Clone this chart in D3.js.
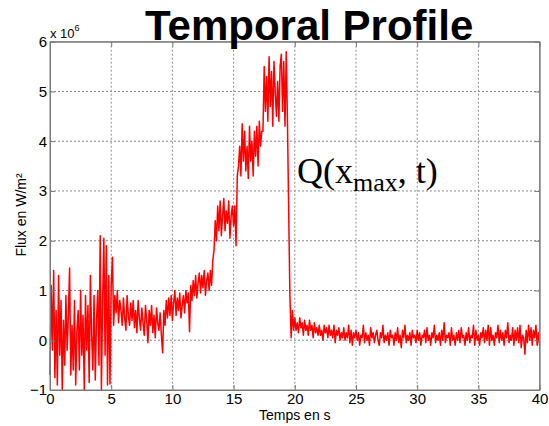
<!DOCTYPE html>
<html><head><meta charset="utf-8">
<script src="https://cdn.jsdelivr.net/npm/d3@7"></script>
<style>body{margin:0;background:#fff}svg{display:block}text{font-family:"Liberation Sans",Arial,sans-serif}</style>
</head><body><svg id="c" width="549" height="426"></svg>
<script>
// time axis: samples every 0.1 s from 0 to 40 s
const tStep = 0.1;
// flux values (x 10^6 W/m²), one row per second
const flux = [
 -0.7, 1.1, -0.2, 1.4, -0.75, 0.6, -0.9, 1.3, -0.3, 0.8,
 -1.0, 0.4, -0.5, 0.9, -0.2, 0.5, 1.45, -0.7, 0.3, -0.6,
 0.8, -0.9, 0.2, 0.6, -0.6, 1.0, -0.3, 0.5, -1.0, 0.9,
 -0.2, 0.7, -0.85, 1.3, 0.1, -0.6, 0.9, -0.8, 0.4, 1.0,
 -0.5, 2.1, -1.0, 0.8, 2.05, -0.3, 1.9, -0.9, 1.3, -0.88,
 1.1, 1.67, 0.3, 0.9, 0.55, 1.0, 0.35, 0.8, 0.6, 0.3,
 0.85, 0.45, 0.2, 0.9, 0.5, 0.3, 0.75, 0.4, 0.8, 0.25,
 0.6, 0.15, 0.8, 0.45, 0.2, 0.65, 0.35, 0.1, 0.7, 0.4,
 -0.05, 0.6, 0.3, 0.7, 0.15, 0.5, 0.05, 0.65, 0.35, 0.2,
 0.55, 0.1, -0.25, 0.6, 0.3, 0.8, 0.45, 0.85, 0.5, 0.9,
 0.4, 0.75, 1.0, 0.5, 0.85, 0.6, 0.95, 0.45, 0.7, 0.9,
 0.55, 1.0, 0.75, 0.95, 0.17, 1.1, 0.8, 1.2, 0.9, 1.3,
 0.85, 1.15, 1.35, 0.95, 1.3, 1.05, 1.4, 0.9, 1.2, 1.35,
 1.0, 1.4, 1.1, 1.6, 1.8, 2.4, 2.0, 2.7, 2.2, 2.8,
 2.1, 2.5, 2.85, 2.2, 2.6, 2.35, 2.8, 2.05, 2.5, 2.7,
 2.3, 2.7, 1.9, 3.3, 3.5, 3.9, 3.3, 4.35, 3.6, 4.2,
 3.4, 3.9, 3.25, 4.3, 3.6, 4.0, 3.3, 4.2, 3.7, 4.3,
 3.5, 4.4, 3.9, 4.2, 4.2, 5.5, 4.6, 5.3, 4.4, 5.7,
 4.7, 5.4, 4.3, 5.6, 5.0, 4.5, 5.2, 4.4, 5.5, 5.75,
 4.6, 5.6, 4.3, 5.8, 4.4, 2.6, 0.9, 0.05, 0.6, 0.2,
 0.45, 0.2, 0.35, 0.15, 0.45, 0.25, 0.35, 0.1, 0.4, 0.2,
 0.3, 0.1, 0.4, 0.2, 0.3, 0.05, 0.35, 0.15, 0.25, 0.1,
 0.3, 0.1, 0.2, 0.0, 0.3, 0.15, 0.25, 0.05, 0.3, 0.1,
 0.2, 0.05, 0.3, -0.05, 0.2, 0.1, 0.25, 0.0, 0.15, 0.05,
 0.25, 0.0, 0.15, 0.05, 0.3, -0.05, 0.2, -0.1, 0.15, 0.05,
 0.2, 0.0, 0.15, -0.1, 0.1, 0.05, 0.3, -0.05, 0.15, 0.0,
 0.1, -0.1, 0.25, 0.05, 0.15, -0.05, 0.1, 0.2, 0.0, -0.1,
 0.15, 0.05, 0.3, -0.05, 0.1, 0.0, 0.15, -0.1, 0.2, 0.05,
 0.1, -0.1, 0.15, 0.0, 0.25, -0.05, 0.1, -0.15, 0.2, 0.05,
 0.3, -0.05, 0.1, 0.0, 0.15, -0.1, 0.2, 0.05, 0.1, -0.05,
 0.2, 0.0, 0.15, -0.1, 0.1, 0.05, 0.2, -0.05, 0.25, 0.0,
 0.1, -0.1, 0.15, 0.05, 0.3, -0.05, 0.1, 0.0, 0.15, -0.1,
 0.2, 0.0, 0.35, -0.05, 0.1, 0.05, 0.15, -0.1, 0.25, 0.0,
 0.1, -0.1, 0.15, 0.0, 0.2, -0.05, 0.25, 0.05, 0.1, -0.1,
 0.15, 0.0, 0.25, -0.05, 0.1, 0.05, 0.3, -0.1, 0.2, 0.0,
 0.1, -0.1, 0.15, 0.05, 0.25, -0.05, 0.2, 0.0, 0.3, -0.1,
 0.25, 0.0, 0.1, -0.1, 0.15, 0.05, 0.3, -0.05, 0.2, 0.0,
 0.15, -0.1, 0.2, 0.05, 0.35, -0.05, 0.1, 0.0, 0.25, -0.1,
 0.2, 0.0, 0.25, -0.05, 0.3, -0.15, 0.1, 0.05, -0.28, 0.2,
 -0.05, 0.3, 0.0, 0.25, -0.1, 0.2, 0.05, 0.3, -0.1, 0.15, -0.1
];
const xTicks = [0, 5, 10, 15, 20, 25, 30, 35, 40];
const yTicks = [-1, 0, 1, 2, 3, 4, 5, 6];
const titleText = "Temporal Profile";
const xLabel = "Temps en s";
const yLabel = "Flux en W/m²";

const svg = d3.select("#c");
const L = 50, R = 539.6, T = 41.7, B = 390;
const x = d3.scaleLinear().domain([0, 40]).range([L, R]);
const y = d3.scaleLinear().domain([-1, 6]).range([B, T]);
const axisCol = "#7a7a7a";

// grid
const g = svg.append("g");
g.selectAll(".gx").data(xTicks.slice(1, -1)).join("line")
  .attr("x1", d => x(d)).attr("x2", d => x(d)).attr("y1", T).attr("y2", B)
  .attr("stroke", "#8a8a8a").attr("stroke-width", 1).attr("stroke-dasharray", "2,2");
g.selectAll(".gy").data(yTicks.slice(1, -1)).join("line")
  .attr("y1", d => y(d)).attr("y2", d => y(d)).attr("x1", L).attr("x2", R)
  .attr("stroke", "#8a8a8a").attr("stroke-width", 1).attr("stroke-dasharray", "2,2");

// data line
const data = flux.map((v, i) => [i * tStep, v]);
svg.append("path").datum(data)
  .attr("fill", "none").attr("stroke", "#ff0000").attr("stroke-width", 1.5)
  .attr("stroke-linejoin", "round")
  .attr("d", d3.line().x(d => x(d[0])).y(d => y(d[1])));

// axes (inward ticks)
const fmt = d3.format("d");
svg.append("g").attr("transform", `translate(0,${B})`)
  .call(d3.axisBottom(x).tickValues(xTicks).tickFormat(fmt).tickSizeInner(-5).tickSizeOuter(0).tickPadding(3));
svg.append("g").attr("transform", `translate(${L},0)`)
  .call(d3.axisLeft(y).tickValues(yTicks).tickFormat(fmt).tickSizeInner(-5).tickSizeOuter(0).tickPadding(3));
svg.append("g").attr("transform", `translate(0,${T})`)
  .call(d3.axisTop(x).tickValues(xTicks).tickSizeInner(-5).tickSizeOuter(0).tickFormat(""));
svg.append("g").attr("transform", `translate(${R},0)`)
  .call(d3.axisRight(y).tickValues(yTicks).tickSizeInner(-5).tickSizeOuter(0).tickFormat(""));
svg.selectAll(".domain, .tick line").attr("stroke", axisCol);
svg.selectAll(".tick text").attr("fill", "#000").style("font-size", "15px")
  .style("font-family", '"Liberation Sans",Arial,sans-serif');

// box
svg.append("rect").attr("x", L).attr("y", T).attr("width", R - L).attr("height", B - T)
  .attr("fill", "none").attr("stroke", axisCol).attr("stroke-width", 1);

// exponent
const ex = svg.append("text").attr("x", 50).attr("y", 38).style("font-size", "13px");
ex.append("tspan").text("x 10");
ex.append("tspan").attr("dy", -7).style("font-size", "9px").text("6");

// title
svg.append("text").attr("x", 145).attr("y", 40).style("font-size", "42px")
  .style("font-weight", "bold").attr("fill", "#000").text(titleText);

// axis labels
svg.append("text").attr("x", x(20)).attr("y", 420).attr("text-anchor", "middle")
  .style("font-size", "14px").text(xLabel);
svg.append("text").attr("transform", "translate(26,215) rotate(-90)").attr("text-anchor", "middle")
  .style("font-size", "14px").text(yLabel);

// annotation
const q = svg.append("text").attr("x", 297).attr("y", 183)
  .style("font-family", '"Liberation Serif","Times New Roman",serif').style("font-size", "36px");
q.append("tspan").text("Q(x");
q.append("tspan").attr("dy", 8).style("font-size", "26px").text("max");
q.append("tspan").attr("dy", -8).text(", t)");
</script></body></html>
